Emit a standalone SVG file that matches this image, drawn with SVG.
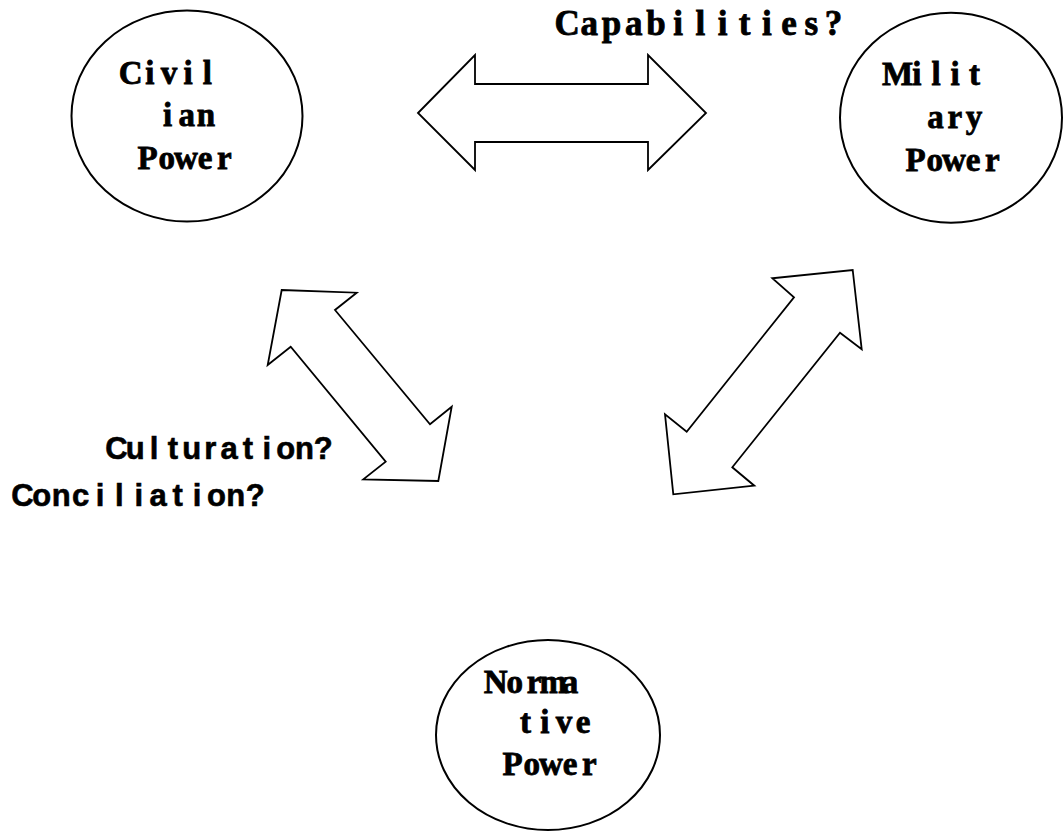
<svg xmlns="http://www.w3.org/2000/svg" width="1064" height="831" viewBox="0 0 1064 831">
<style>
.node{fill:#fff;stroke:#000;stroke-width:2}
.arrow{fill:#fff;stroke:#000;stroke-width:1.8;stroke-linejoin:miter}
.nt{font-family:"Liberation Serif","Times New Roman",serif;font-weight:bold;font-size:33px;fill:#000;stroke:#000;stroke-width:0.8;text-anchor:middle}
.cap{font-family:"Liberation Serif","Times New Roman",serif;font-weight:bold;font-size:35px;fill:#000;stroke:#000;stroke-width:0.8;text-anchor:middle}
.lt{font-family:"Liberation Sans",Arial,sans-serif;font-weight:bold;font-size:31px;fill:#000;stroke:#000;stroke-width:0.6;text-anchor:middle}
</style>
<rect width="1064" height="831" fill="#fff"/>
<g id="connectors">
<polygon class="arrow" points="418,113 475,55 475,84 648,84 648,55 706,113 648,170 648,142 475,142 475,170"/>
<polygon class="arrow" points="281.7,290 356.7,292.7 335,310 430,424.3 451.7,406.7 438.3,481 363.3,479.3 385.7,461.7 290.7,346.7 267.7,365"/>
<polygon class="arrow" points="852.7,270 861.7,349.3 840,332.7 732.3,467.3 754.3,485.7 673.3,494.3 665,414.3 686.7,431.7 794,297.3 772.3,278.3"/>
<text class="cap" x="567.1 589.3 611.5 633.7 655.9 678.1 700.3 722.5 744.7 766.9 789.1 811.3 833.5" y="35">Capabilities?</text>
<text class="lt" x="116.4 135.2 154 172.8 191.6 210.4 229.2 248 266.8 285.6 304.4 323.2" y="459">Culturation?</text>
<text class="lt" x="22.4 41.8 61.2 80.6 100 119.4 138.8 158.2 177.6 197 216.4 235.8 255.2" y="506">Conciliation?</text>
</g>
<g id="civilian">
<ellipse class="node" cx="187" cy="116" rx="115.5" ry="105.5"/>
<text class="nt" x="130.6 149.8 169 188.2 207.4" y="84">Civil</text>
<text class="nt" x="167.6 186.8 206" y="126">ian</text>
<text class="nt" x="147.6 166.8 186 205.2 224.4" y="169">Power</text>
</g>
<g id="military">
<ellipse class="node" cx="951" cy="117.7" rx="111" ry="105"/>
<text class="nt" x="897.6 916.8 936 955.2 974.4" y="85">Milit</text>
<text class="nt" x="935.6 954.8 974" y="128">ary</text>
<text class="nt" x="915.6 934.8 954 973.2 992.4" y="171">Power</text>
</g>
<g id="normative">
<ellipse class="node" cx="548" cy="735" rx="112" ry="95"/>
<text class="nt" x="495.6 514.8 534 553.2 570" y="693">Norma</text>
<text class="nt" x="525.6 544.8 564 583.2" y="733">tive</text>
<text class="nt" x="512.6 531.8 551 570.2 589.4" y="775">Power</text>
</g>
</svg>
